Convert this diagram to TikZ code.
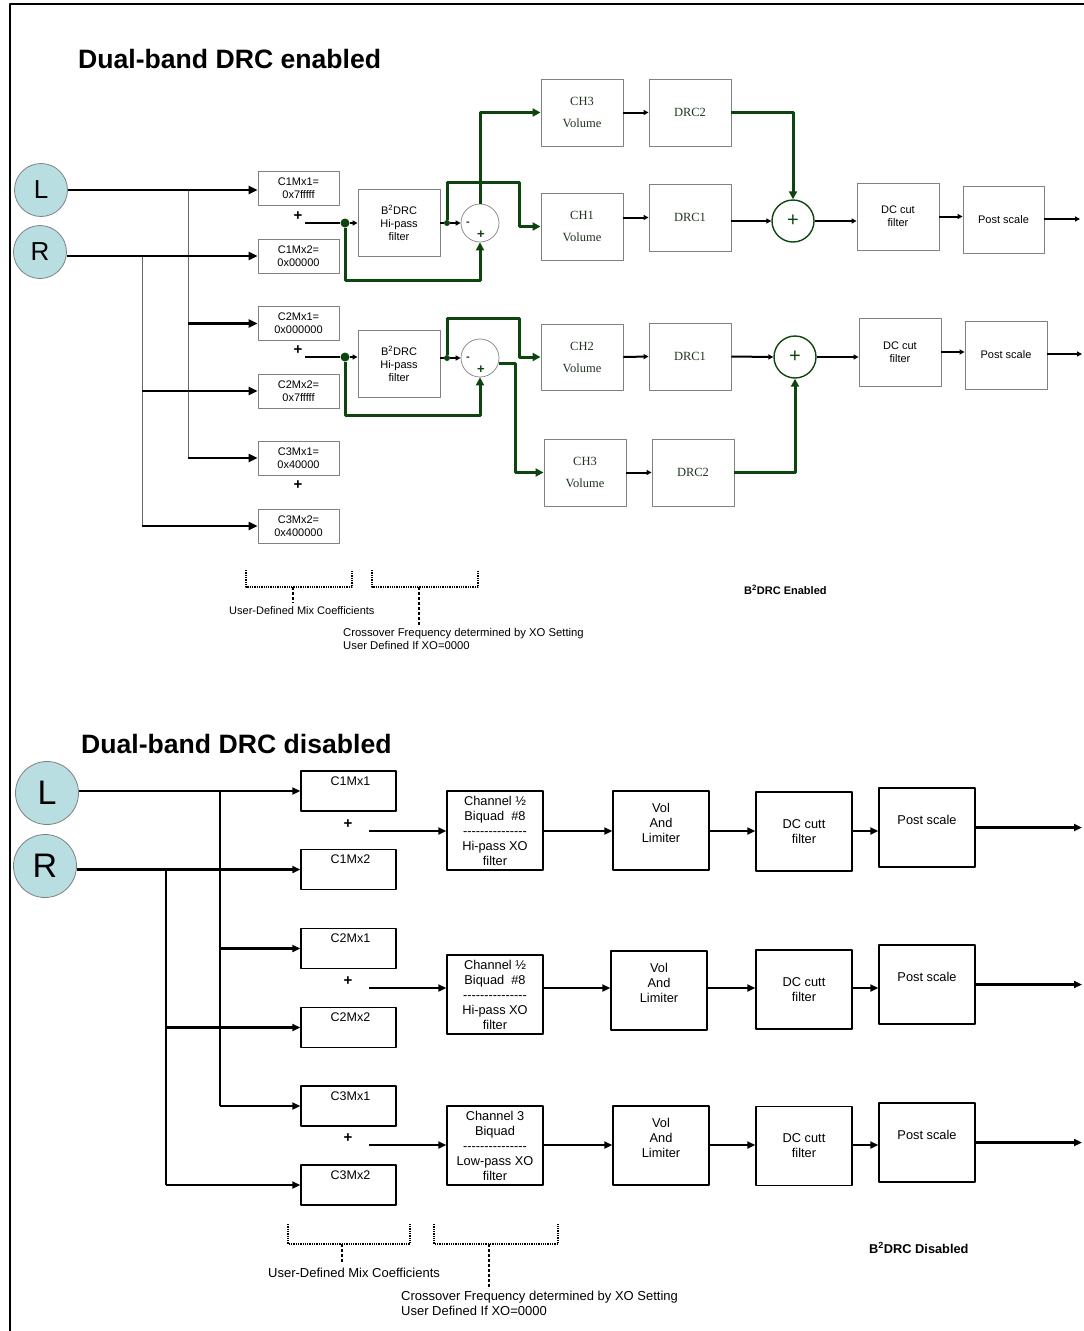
\documentclass[tikz,border=0pt]{standalone}
\usepackage{fontspec}
\setmainfont{Liberation Sans}
\newfontfamily\timesface{Liberation Serif}
\usetikzlibrary{arrows.meta}
\definecolor{drcgreen}{RGB}{14,68,14}
\definecolor{chanink}{RGB}{34,52,34}
\definecolor{padfill}{RGB}{184,222,225}
\newcommand\xodashes{-{}-{}-{}-{}-{}-{}-{}-{}-{}-{}-{}-{}-{}-{}-}
\tikzset{
  chan/.style={circle, draw=gray, line width=0.8pt, fill=padfill, inner sep=0pt, minimum size=#1},
  mixa/.style={draw=gray, line width=0.9pt, minimum width=81, minimum height=34, align=center,
    inner sep=1pt, font=\fontsize{11}{13}\selectfont},
  filta/.style={draw=gray, line width=0.9pt, minimum width=82, minimum height=67, align=center,
    inner sep=1pt, font=\fontsize{11}{13}\selectfont},
  chbox/.style={filta, font=\timesface\fontsize{12.5}{22}\selectfont, text=chanink},
  subc/.style={circle, draw=gray, line width=0.7pt, minimum size=38, inner sep=0pt},
  sumc/.style={circle, draw=drcgreen, line width=1.4pt, minimum size=42, inner sep=0pt,
    text=drcgreen, font=\fontsize{20}{20}\selectfont},
  jdot/.style={circle, fill=drcgreen, inner sep=0pt, minimum size=#1},
  plus/.style={inner sep=0pt, font=\bfseries\fontsize{15}{15}\selectfont},
  wire/.style={line width=2pt, -{Triangle[length=5pt,width=5pt]}},
  gwire/.style={line width=3pt, drcgreen, -{Triangle[length=8pt,width=8pt]}},
  feed/.style={line width=2.2pt, -{Triangle[length=9pt,width=8pt]}},
  tree/.style={line width=1pt, gray!80!black},
  mixb/.style={draw, line width=1.4pt, minimum width=95, minimum height=40,
    label={[anchor=north, inner sep=6pt, xshift=2pt, font=\fontsize{12.5}{15}\selectfont]north:#1}},
  blockb/.style={draw, line width=1.4pt, minimum width=96, minimum height=79, align=center,
    inner sep=1pt, font=\fontsize{12.8}{15}\selectfont},
  wireb/.style={line width=2.2pt, -{Triangle[length=8pt,width=7pt]}},
  bracket/.style={densely dotted, line width=1.3pt},
  pointer/.style={densely dashed, line width=1.3pt},
  note/.style={inner sep=0pt, align=left}
}
\begin{document}
\begin{tikzpicture}[x=1pt, y=-1pt, line join=round]
\useasboundingbox (0,0) rectangle (1084,1331);
\draw[line width=1.4pt] (1084,4) -- (10,4) -- (10,1331);

\node[anchor=base west, inner sep=0pt, font=\bfseries\fontsize{26.6}{30}\selectfont] (title1) at (78,68) {Dual-band DRC enabled};
\node[chan=53, font=\fontsize{26}{26}\selectfont] (L1) at (41,190) {L};
\node[chan=53, font=\fontsize{26}{26}\selectfont] (R1) at (40,252) {R};
\foreach \n/\y/\t in {m11/188.5/{C1Mx1=\\0x7fffff}, m12/256/{C1Mx2=\\0x00000},
    m21/323.5/{C2Mx1=\\0x000000}, m22/391/{C2Mx2=\\0x7fffff},
    m31/458/{C3Mx1=\\0x40000}, m32/526/{C3Mx2=\\0x400000}}
  \node[mixa] (\n) at (298.5,\y) {\t};
\foreach \y/\n in {216/pl1, 350/pl2, 485/pl3}
  \node[plus] (\n) at (298,\y) {+};
\coordinate (tL) at (188,0);
\coordinate (tR) at (142,0);
\draw[tree] (tL |- L1) -- (tL |- m31);
\draw[tree] (tR |- m12) -- (tR |- m32);
\draw[feed] (L1.east) -- (L1.east -| m11.west);
\draw[feed] (R1.east |- m12) -- (m12.west);
\foreach \m/\t in {m21/tL, m22/tR, m31/tL, m32/tR}
  \draw[feed] (\t |- \m) -- (\m.west);

\coordinate (s1) at (305,223);
\node[jdot=9] (d1) at (345,223) {};
\node[filta] (b1) at (399,222.5) {B\textsuperscript{2}DRC\\Hi-pass\\filter};
\node[subc] (c1) at (480,223) {};
\node[jdot=6] (o1) at (447,223) {};
\node[inner sep=0pt, font=\bfseries\fontsize{11}{11}\selectfont, text=drcgreen] (mn1) at (468,224) {-};
\node[inner sep=0pt, font=\bfseries\fontsize{13}{13}\selectfont, text=drcgreen] (pp1) at (481,235) {+};
\coordinate (s2) at (305,357);
\node[jdot=9] (d2) at (345,357) {};
\node[filta] (b2) at (399,363.5) {B\textsuperscript{2}DRC\\Hi-pass\\filter};
\node[subc] (c2) at (480,358) {};
\node[jdot=6] (o2) at (447,358) {};
\node[inner sep=0pt, font=\bfseries\fontsize{11}{11}\selectfont, text=drcgreen] (mn2) at (468,359) {-};
\node[inner sep=0pt, font=\bfseries\fontsize{13}{13}\selectfont, text=drcgreen] (pp2) at (481,370) {+};

\node[chbox] (ch3a) at (582,112.5) {CH3\\Volume};
\node[chbox] (drc2a) at (690,112.5) {DRC2};
\node[chbox] (ch1) at (582,226.5) {CH1\\Volume};
\node[chbox] (drc1a) at (690,217.5) {DRC1};
\node[sumc] (sum1) at (793,221) {+};
\node[filta] (dca) at (898,216.5) {DC cut\\filter};
\node[filta, minimum width=81] (psa) at (1003.5,219.5) {Post scale};
\coordinate (out1) at (1080,219);
\node[chbox, minimum height=66] (ch2) at (582,357) {CH2\\Volume};
\node[chbox] (drc1b) at (690,356.5) {DRC1};
\node[sumc] (sum2) at (795,357) {+};
\node[filta, minimum height=68] (dcb) at (900,352) {DC cut\\filter};
\node[filta, minimum height=68] (psb) at (1006,355) {Post scale};
\coordinate (out2) at (1082,354);
\node[chbox] (ch3b) at (585,472.5) {CH3\\Volume};
\node[chbox] (drc2b) at (693,472.5) {DRC2};

\draw[line width=2pt] (s1) -- (d1);
\draw[wire] (d1) -- (d1 -| b1.west);
\draw[line width=2pt] (o1 -| b1.east) -- (o1);
\draw[wire] (o1) -- (c1.west);
\coordinate (f1) at (345,280);
\coordinate (j1) at (519,182);
\draw[gwire] (d1) -- (f1) -| (c1.south);
\draw[gwire] (o1) |- (j1) |- (ch1.west);
\draw[gwire] (c1.north) |- (ch3a.west);
\draw[line width=2pt] (s2) -- (d2);
\draw[wire] (d2) -- (d2 -| b2.west);
\draw[line width=2pt] (o2 -| b2.east) -- (o2);
\draw[wire] (o2) -- (c2.west);
\coordinate (f2) at (345,415);
\coordinate (j2) at (519,318);
\draw[gwire] (d2) -- (f2) -| (c2.south);
\draw[gwire] (o2) |- (j2) |- (ch2.west);
\draw[gwire] (c2.-15) -- ++(17,0) |- (ch3b.west);

\draw[wire] (ch3a.east) -- (drc2a.west);
\draw[wire] (ch1.east |- drc1a) -- (drc1a.west);
\draw[wire] (drc1a.east |- sum1) -- (sum1.west);
\draw[gwire] (drc2a.east) -| (sum1.north);
\draw[wire] (sum1.east) -- (sum1.east -| dca.west);
\draw[wire] (dca.east) -- (dca.east -| psa.west);
\draw[wire] (psa.east |- out1) -- (out1);
\draw[wire] (ch2.east) -- (drc1b.west);
\draw[wire] (drc1b.east) -- (sum2.west);
\draw[wire] (sum2.east) -- (sum2.east -| dcb.west);
\draw[wire] (dcb.east) -- (dcb.east -| psb.west);
\draw[wire] (psb.east |- out2) -- (out2);
\draw[wire] (ch3b.east) -- (drc2b.west);
\draw[gwire] (drc2b.east) -| (sum2.south);

\draw[bracket] (246,570) |- (352,587) -- (352,570);
\draw[pointer] (293,587) -- (293,603);
\draw[bracket] (372,570) |- (478,587) -- (478,570);
\draw[pointer] (419,587) -- (419,626);
\node[note, anchor=west, font=\fontsize{11}{13}\selectfont] (mixnote1) at (229,611) {User-Defined Mix Coefficients};
\node[note, anchor=north west, font=\fontsize{11.3}{13}\selectfont] (xonote1) at (343,628) {Crossover Frequency determined by XO Setting\\User Defined If XO=0000};
\node[note, anchor=west, font=\bfseries\fontsize{11}{13}\selectfont] (mode1) at (744,590) {B\textsuperscript{2}DRC Enabled};

\node[anchor=base west, inner sep=0pt, font=\bfseries\fontsize{26.6}{30}\selectfont] (title2) at (81,753) {Dual-band DRC disabled};
\node[chan=63, font=\fontsize{34}{34}\selectfont] (L2) at (47,793) {L};
\node[chan=63, font=\fontsize{34}{34}\selectfont] (R2) at (45,866) {R};
\foreach \n/\y/\t in {n11/791/C1Mx1, n12/869.5/C1Mx2, n21/948.5/C2Mx1,
    n22/1027.5/C2Mx2, n31/1106/C3Mx1, n32/1185/C3Mx2}
  \node[mixb=\t] (\n) at (348.5,\y) {};
\foreach \y/\n in {824/pl4, 981/pl5, 1138/pl6}
  \node[plus] (\n) at (348,\y) {+};
\coordinate (tL2) at (220,0);
\coordinate (tR2) at (166,0);
\draw[line width=1.2pt] (tL2 |- n11) -- (tL2 |- n31);
\draw[line width=1.2pt] (tR2 |- n12) -- (tR2 |- n32);
\draw[wireb] (L2.east |- n11) -- (n11.west);
\draw[wireb] (R2.east |- n12) -- (n12.west);
\foreach \m/\t in {n21/tL2, n22/tR2, n31/tL2, n32/tR2}
  \draw[wireb] (\t |- \m) -- (\m.west);

\node[blockb] (bq1) at (495,830.5) {Channel ½\\Biquad~ \#8\\\xodashes\\Hi-pass XO\\filter};
\node[blockb] (bq2) at (495,994.5) {Channel ½\\Biquad~ \#8\\\xodashes\\Hi-pass XO\\filter};
\node[blockb] (bq3) at (495,1145.5) {Channel 3\\Biquad\\\xodashes\\Low-pass XO\\filter};
\node[blockb, text depth=15pt] (vol1) at (661,830.5) {Vol\\And\\Limiter};
\node[blockb, text depth=15pt] (vol2) at (659,990.5) {Vol\\And\\Limiter};
\node[blockb, text depth=15pt] (vol3) at (661,1145.5) {Vol\\And\\Limiter};
\node[blockb] (dc1) at (804,831.5) {DC cutt\\filter};
\node[blockb] (dc2) at (804,989.5) {DC cutt\\filter};
\node[blockb] (dc3) at (804,1146) {DC cutt\\filter};
\node[blockb, text depth=16pt] (ps1) at (927,827.5) {Post scale};
\node[blockb, text depth=16pt] (ps2) at (927,984.5) {Post scale};
\node[blockb, text depth=16pt] (ps3) at (927,1142.5) {Post scale};
\coordinate (eR) at (1082,0);
\foreach \r/\y in {1/831, 2/988, 3/1145} {
  \coordinate (p\r) at (369,\y);
  \draw[wireb] (p\r) -- (p\r -| bq\r.west);
  \draw[wireb] (p\r -| bq\r.east) -- (p\r -| vol\r.west);
  \draw[wireb] (p\r -| vol\r.east) -- (p\r -| dc\r.west);
  \draw[wireb] (p\r -| dc\r.east) -- (p\r -| ps\r.west);
  \draw[wireb] (ps\r.east) -- (ps\r.east -| eR);
}

\draw[bracket] (288,1224) |- (410,1244) -- (410,1224);
\draw[pointer] (342,1244) -- (342,1263);
\draw[bracket] (434,1224) |- (558,1244) -- (558,1224);
\draw[pointer] (489,1244) -- (489,1288);
\node[note, anchor=west, font=\fontsize{13}{15}\selectfont] (mixnote2) at (268,1273) {User-Defined Mix Coefficients};
\node[note, anchor=north west, font=\fontsize{13}{15}\selectfont] (xonote2) at (401,1291) {Crossover Frequency determined by XO Setting\\User Defined If XO=0000};
\node[note, anchor=west, font=\bfseries\fontsize{12.8}{14}\selectfont] (mode2) at (869,1248) {B\textsuperscript{2}DRC Disabled};
\end{tikzpicture}
\end{document}
